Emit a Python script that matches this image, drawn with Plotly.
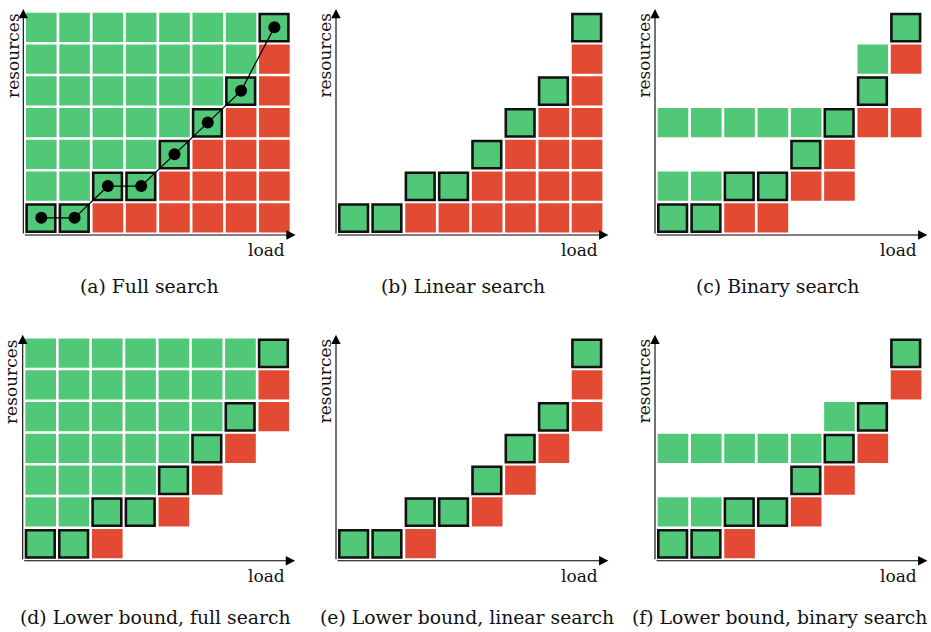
import plotly.graph_objects as go

GREEN = "#50c878"
RED = "#e34a33"
INK = "#111111"

# Minimum number of resources (row index) that satisfies each load level (column)
load_levels = [0, 1, 2, 3, 4, 5, 6, 7]
min_resources = [0, 0, 1, 1, 2, 3, 4, 6]
n_resource_levels = 7

# Resource levels probed at each load level, per search strategy
probes_full = [[0, 1, 2, 3, 4, 5, 6]] * 8
probes_linear = [[0], [0], [0, 1], [0, 1], [0, 1, 2], [0, 1, 2, 3],
                 [0, 1, 2, 3, 4], [0, 1, 2, 3, 4, 5, 6]]
probes_binary = [[3, 1, 0], [3, 1, 0], [3, 1, 0], [3, 1, 0], [3, 1, 2],
                 [3, 1, 2], [3, 5, 4], [3, 5, 6]]
probes_lb_full = [[0, 1, 2, 3, 4, 5, 6], [0, 1, 2, 3, 4, 5, 6],
                  [0, 1, 2, 3, 4, 5, 6], [1, 2, 3, 4, 5, 6],
                  [1, 2, 3, 4, 5, 6], [2, 3, 4, 5, 6], [3, 4, 5, 6], [4, 5, 6]]
probes_lb_linear = [[0], [0], [0, 1], [1], [1, 2], [2, 3], [3, 4], [4, 5, 6]]
probes_lb_binary = [[3, 1, 0], [3, 1, 0], [3, 1, 0], [3, 1], [3, 1, 2],
                    [4, 3, 2], [3, 4], [5, 6]]

captions = ["(a) Full search", "(b) Linear search", "(c) Binary search",
            "(d) Lower bound, full search", "(e) Lower bound, linear search",
            "(f) Lower bound, binary search"]
panel_probes = [probes_full, probes_linear, probes_binary,
                probes_lb_full, probes_lb_linear, probes_lb_binary]
show_path = [True, False, False, False, False, False]

# Page geometry (pixels)
W, H = 931, 632
XU, YU = 33.3, 31.75             # pixels per grid unit
origins = [(23.3, 235.0), (336.0, 235.0), (655.0, 235.0),
           (22.7, 560.7), (336.0, 560.7), (655.0, 560.7)]
caption_pos = [(149, 286), (463, 286), (777, 286),
               (155, 617), (467, 617), (779, 617)]
XR = (-0.2, 8.25)
YR = (-0.2, 7.25)
CELL_LO = 0.08                   # gap between cells, in grid units
LINE_W = 2.6
SERIF = "DejaVu Serif"


def clamp(v):
    return min(1.0, max(0.0, v))


fig = go.Figure()
shapes = []
annotations = []
layout_axes = {}

for i, (probes, (ox, oy)) in enumerate(zip(panel_probes, origins)):
    n = i + 1
    xa = "x" if n == 1 else f"x{n}"
    ya = "y" if n == 1 else f"y{n}"
    xd = [clamp((ox + XR[0] * XU) / W), clamp((ox + XR[1] * XU) / W)]
    yd = [clamp(1 - (oy - YR[0] * YU) / H), clamp(1 - (oy - YR[1] * YU) / H)]
    xr = [XR[0], XR[0] + (xd[1] * W - xd[0] * W) / XU]
    common = dict(showgrid=False, zeroline=False, showticklabels=False,
                  ticks="", showline=False, fixedrange=True)
    layout_axes[f"xaxis{'' if n == 1 else n}"] = dict(
        domain=xd, range=xr, anchor=ya, **common)
    layout_axes[f"yaxis{'' if n == 1 else n}"] = dict(
        domain=yd, range=list(YR), anchor=xa, **common)

    boxed = []
    for col, rows in zip(load_levels, probes):
        for r in rows:
            ok = r >= min_resources[col]
            x0, x1 = col + CELL_LO, col + 1.0
            y0, y1 = r + CELL_LO, r + 1.0
            if r == min_resources[col]:
                boxed.append((x0, x1, y0, y1))
            else:
                shapes.append(dict(type="rect", xref=xa, yref=ya,
                                   x0=x0, x1=x1, y0=y0, y1=y1,
                                   fillcolor=GREEN if ok else RED,
                                   line=dict(width=0), layer="below"))
    # Minimal feasible allocation for each load, outlined
    dx = (LINE_W / 2) / XU
    dy = (LINE_W / 2) / YU
    for (x0, x1, y0, y1) in boxed:
        shapes.append(dict(type="rect", xref=xa, yref=ya,
                           x0=x0 - 0.02 + dx, x1=x1 - dx,
                           y0=y0 - 0.02 + dy, y1=y1 - dy,
                           fillcolor=GREEN,
                           line=dict(width=LINE_W, color=INK), layer="below"))

    if show_path[i]:
        fig.add_trace(go.Scatter(
            x=[c + 0.54 for c in load_levels],
            y=[m + 0.54 for m in min_resources],
            mode="lines+markers", xaxis=xa, yaxis=ya,
            line=dict(color="black", width=1.3),
            marker=dict(color="black", size=12),
            showlegend=False, hoverinfo="skip", cliponaxis=False))
    else:
        fig.add_trace(go.Scatter(x=[None], y=[None], xaxis=xa, yaxis=ya,
                                 showlegend=False, hoverinfo="skip"))

    # Axis arrows
    annotations.append(dict(xref=xa, yref=ya, axref=xa, ayref=ya,
                            x=8.18, y=0, ax=0, ay=0, text="",
                            showarrow=True, arrowhead=2, arrowsize=1.7,
                            arrowwidth=1.1, arrowcolor="black", standoff=0))
    annotations.append(dict(xref=xa, yref=ya, axref=xa, ayref=ya,
                            x=0, y=7.12, ax=0, ay=0, text="",
                            showarrow=True, arrowhead=2, arrowsize=1.7,
                            arrowwidth=1.1, arrowcolor="black", standoff=0))
    # Axis names (placed on the page relative to the axis origin)
    annotations.append(dict(xref="paper", yref="paper",
                            x=(ox + 7.93 * XU) / W, y=1 - (oy + 15) / H,
                            text="load", showarrow=False,
                            xanchor="right", yanchor="middle",
                            font=dict(size=17)))
    annotations.append(dict(xref="paper", yref="paper",
                            x=(ox - 11) / W, y=1 - (oy - 5.65 * YU) / H,
                            text="resources", textangle=-90,
                            showarrow=False, xanchor="center",
                            yanchor="middle", font=dict(size=17)))
    cx, cy = caption_pos[i]
    annotations.append(dict(xref="paper", yref="paper", x=cx / W,
                            y=1 - cy / H, text=captions[i], showarrow=False,
                            xanchor="center", yanchor="middle",
                            font=dict(size=18.8)))

fig.update_layout(
    width=W, height=H, margin=dict(l=0, r=0, t=0, b=0),
    paper_bgcolor="white", plot_bgcolor="white",
    font=dict(family=SERIF, color="#111111"),
    shapes=shapes, annotations=annotations, showlegend=False,
    **layout_axes)

fig.write_html("out.html")
